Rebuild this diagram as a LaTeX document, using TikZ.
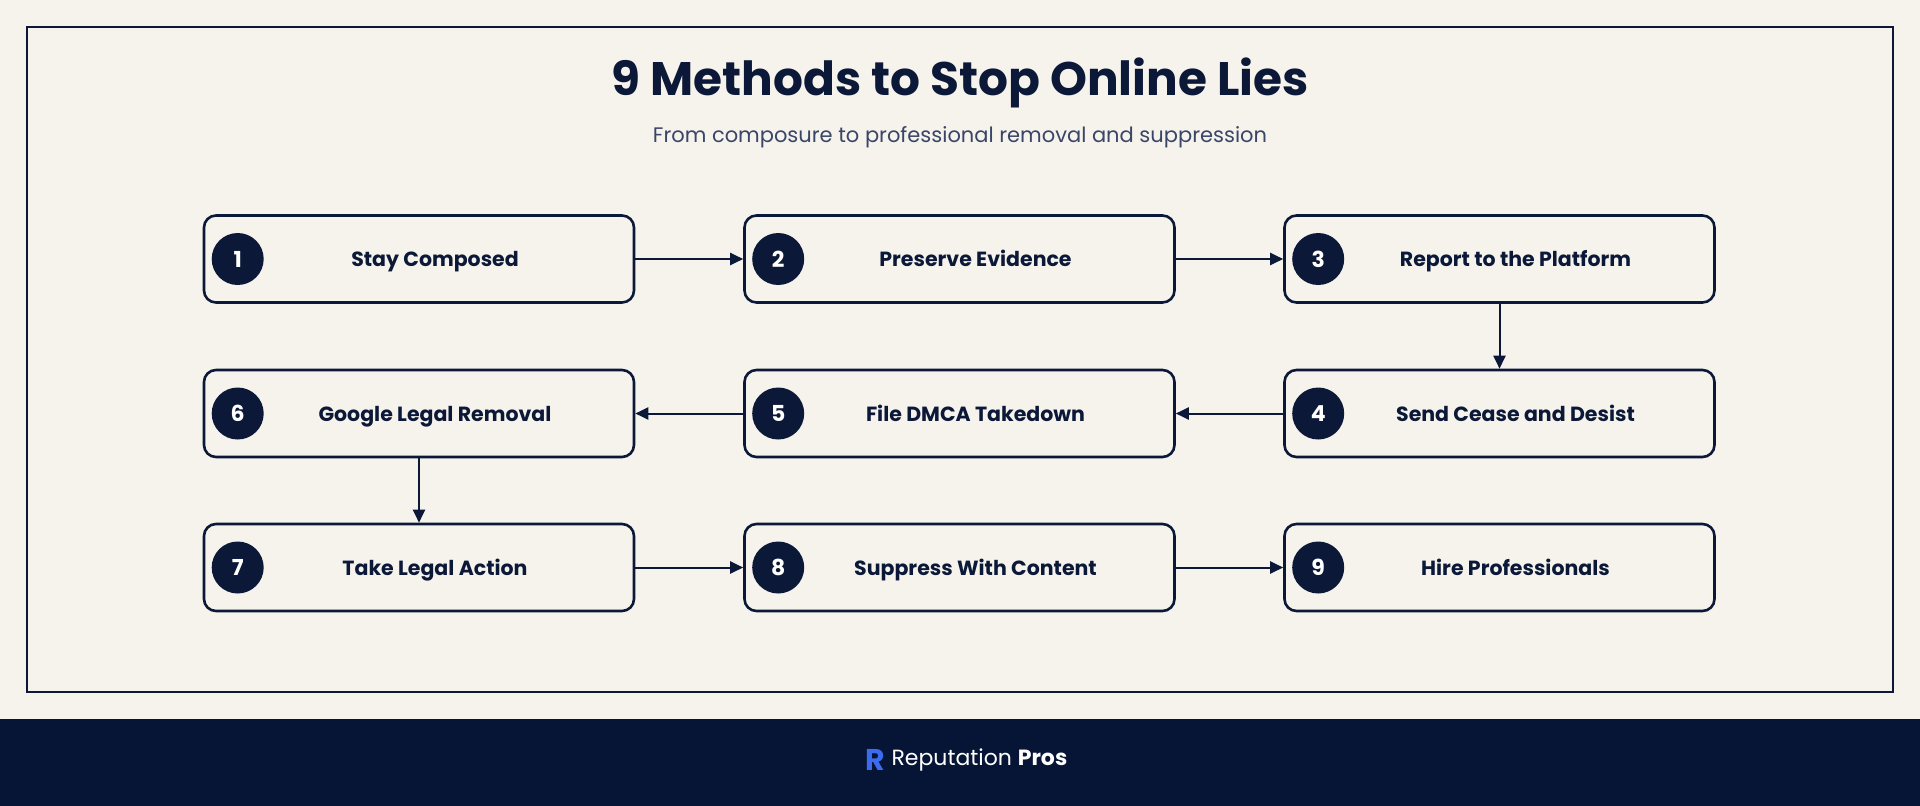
\documentclass[tikz,border=0pt]{standalone}
\usepackage{fontspec}
\setmainfont{Poppins}
\usetikzlibrary{arrows.meta,calc}
\definecolor{navy}{HTML}{0B1838}
\definecolor{foot}{HTML}{061535}
\definecolor{bg}{HTML}{F6F3EC}
\definecolor{sub}{HTML}{3A4668}
\definecolor{logob}{HTML}{3D6BF0}
\begin{document}
\begin{tikzpicture}[x=1pt,y=-1pt,
  box/.style={draw=navy,line width=2.6pt,rounded corners=12pt,minimum width=430pt,minimum height=87pt,fill=bg,inner sep=0pt},
  num/.style={circle,fill=navy,minimum size=52pt,inner sep=0pt,text=white,font=\fontsize{22}{24}\selectfont\bfseries},
  lab/.style={text=navy,font=\fontsize{20.5}{24}\selectfont\bfseries,text height=15pt,text depth=0pt},
  arr/.style={draw=navy,line width=2pt,-{Triangle[length=13pt,width=12pt]}}]
\fill[bg] (0,0) rectangle (1920,806);
\useasboundingbox (0,0) rectangle (1920,806);
\draw[navy,line width=2.5pt] (27,27) rectangle (1893,692);
\fill[foot] (0,719) rectangle (1920,806);
\node[text=navy,font=\fontsize{47}{56}\selectfont\bfseries] (title) at (960,83) {9 Methods to Stop Online Lies};
\node[text=sub,font=\fontsize{21}{24}\selectfont] (subtitle) at (960,137) {From composure to professional removal and suppression};
\def\cx{{419,959.5,1499.5}}
\foreach \n/\t/\c/\r in {1/Stay Composed/0/259,2/Preserve Evidence/1/259,3/Report to the Platform/2/259,
  4/Send Cease and Desist/2/413.5,5/File DMCA Takedown/1/413.5,6/Google Legal Removal/0/413.5,
  7/Take Legal Action/0/567.5,8/Suppress With Content/1/567.5,9/Hire Professionals/2/567.5}{
  \pgfmathsetmacro\xx{\cx[\c]}
  \node[box] (b\n) at (\xx,\r) {};
  \node[num] (c\n) at ($(b\n.west)+(35,0)$) {\n};
  \node[lab] (t\n) at ($(b\n.center)+(16,0)$) {\t};
}
\draw[arr] (b1) -- (b2);
\draw[arr] (b2) -- (b3);
\draw[arr] (b3) -- (b4);
\draw[arr] (b4) -- (b5);
\draw[arr] (b5) -- (b6);
\draw[arr] (b6) -- (b7);
\draw[arr] (b7) -- (b8);
\draw[arr] (b8) -- (b9);
\node[text=logob,font=\fontsize{30}{32}\selectfont\bfseries] (logo) at (875,760) {R};
\node[anchor=west,text=white,font=\fontsize{22}{26}\selectfont] (brand) at (888,760) {Reputation \textbf{Pros}};
\end{tikzpicture}
\end{document}
